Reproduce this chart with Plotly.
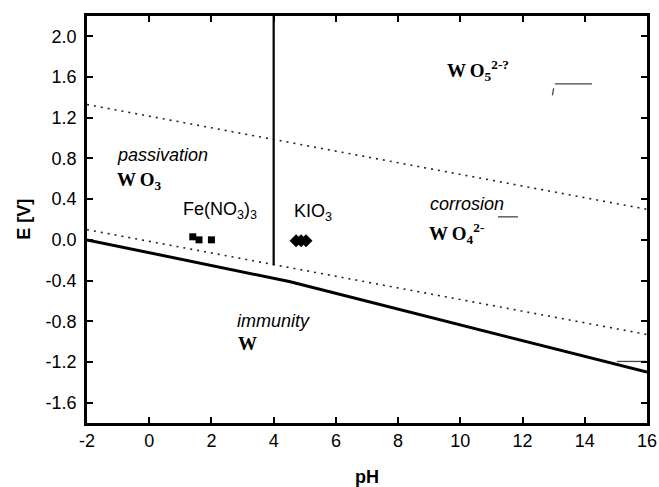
import plotly.graph_objects as go

# --- data ---
# thick solid boundary W / oxides
solid_ph = [-2, 4.5, 16]
solid_e = [0.0, -0.41, -1.30]
# vertical boundary WO3 / WO4^2-
vert_ph = [4, 4]
vert_e = [-0.25, 2.2]
# dotted water stability lines
o2_ph = [-2, 16]
o2_e = [1.33, 0.30]
h2_ph = [-2, 16]
h2_e = [0.10, -0.93]
# measured points
fe_ph = [1.4, 1.6, 2.0]
fe_e = [0.03, 0.0, 0.0]
kio_ph = [4.72, 4.88, 5.04]
kio_e = [-0.01, -0.01, -0.01]
# small stray strokes present in the scanned figure
stray_segments = [
    ([11.21, 11.85], [0.226, 0.226]),
    ([13.04, 14.23], [1.532, 1.532]),
    ([12.96, 13.00], [1.42, 1.49]),
    ([15.03, 15.97], [-1.195, -1.195]),
]
x_ticks = [-2, 0, 2, 4, 6, 8, 10, 12, 14, 16]
x_ticklabels = ["-2", "0", "2", "4", "6", "8", "10", "12", "14", "16"]
y_ticks = [-1.6, -1.2, -0.8, -0.4, 0.0, 0.4, 0.8, 1.2, 1.6, 2.0]
y_ticklabels = ["-1.6", "-1.2", "-0.8", "-0.4", "0.0", "0.4", "0.8", "1.2", "1.6", "2.0"]

SANS = "Liberation Sans, Arial, sans-serif"
SERIF = "Liberation Serif, Times New Roman, serif"

fig = go.Figure()

fig.add_trace(go.Scatter(x=o2_ph, y=o2_e, mode="lines",
                         line=dict(color="#222", width=1.6, dash="2px,5px"), hoverinfo="skip"))
fig.add_trace(go.Scatter(x=h2_ph, y=h2_e, mode="lines",
                         line=dict(color="#222", width=1.6, dash="2px,5px"), hoverinfo="skip"))
fig.add_trace(go.Scatter(x=solid_ph, y=solid_e, mode="lines",
                         line=dict(color="black", width=3)))
fig.add_trace(go.Scatter(x=vert_ph, y=vert_e, mode="lines",
                         line=dict(color="black", width=2.2)))
for sx, sy in stray_segments:
    fig.add_trace(go.Scatter(x=sx, y=sy, mode="lines",
                             line=dict(color="#444", width=1.3), hoverinfo="skip"))
fig.add_trace(go.Scatter(x=fe_ph, y=fe_e, mode="markers",
                         marker=dict(symbol="square", size=7, color="black")))
fig.add_trace(go.Scatter(x=kio_ph, y=kio_e, mode="markers",
                         marker=dict(symbol="diamond", size=10, color="black")))

def ann(x, y, text, font, size, italic=False, anchor="left"):
    fig.add_annotation(x=x, y=y, xref="x", yref="y", text=text, showarrow=False,
                       xanchor=anchor, yanchor="middle",
                       font=dict(family=font, size=size, color="black",
                                 style="italic" if italic else "normal"))

TS = "\u2009"
ann(-1.09, 0.83, "passivation", SANS, 18, italic=True)
ann(-1.09, 0.58, "<b>W" + TS + "O<sub>3</sub></b>", SERIF, 19)
ann(2.26, 0.29, "Fe(NO<sub>3</sub>)<sub>3</sub>", SANS, 18, anchor="center")
ann(5.27, 0.27, "KIO<sub>3</sub>", SANS, 18, anchor="center")
ann(9.51, 1.66, "<b>W" + TS + "O<sub>5</sub><sup>2-?</sup></b>", SERIF, 19)
ann(8.96, 0.35, "corrosion", SANS, 18, italic=True)
ann(8.93, 0.06, "<b>W" + TS + "O<sub>4</sub><sup>2-</sup></b>", SERIF, 19)
ann(2.77, -0.80, "immunity", SANS, 18, italic=True)
ann(2.80, -1.02, "<b>W</b>", SERIF, 19)

# axis titles
fig.add_annotation(x=-0.114, y=0.5, xref="paper", yref="paper", text="<b>E [V]</b>",
                   showarrow=False, textangle=-90, xanchor="center", yanchor="middle",
                   font=dict(family=SANS, size=18, color="black"))
fig.add_annotation(x=0.5, y=-0.132, xref="paper", yref="paper", text="<b>pH</b>",
                   showarrow=False, xanchor="center", yanchor="middle",
                   font=dict(family=SANS, size=18, color="black"))

axis_common = dict(showline=True, linecolor="black", linewidth=2.5, mirror="ticks",
                   ticks="inside", ticklen=6, tickwidth=2, tickcolor="black",
                   showgrid=False, zeroline=False, automargin=False,
                   tickfont=dict(family=SANS, size=18, color="black"))

fig.update_xaxes(range=[-2, 16], tickmode="array", tickvals=x_ticks,
                 ticktext=x_ticklabels, **axis_common)
fig.update_yaxes(range=[-1.8, 2.2], tickmode="array", tickvals=y_ticks,
                 ticktext=y_ticklabels, ticklabelstandoff=4, **axis_common)

fig.update_layout(width=659, height=487, showlegend=False,
                  margin=dict(l=87, r=12, t=16, b=64, autoexpand=False),
                  paper_bgcolor="white", plot_bgcolor="white")

fig.write_html("out.html", config={"displayModeBar": False},
               post_script="document.body.style.margin='0px';document.body.style.overflow='hidden';")
